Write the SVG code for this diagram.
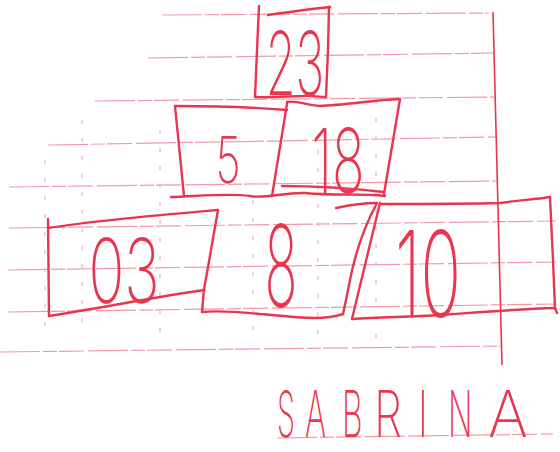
<svg xmlns="http://www.w3.org/2000/svg" width="560" height="452" viewBox="0 0 560 452">
<style>
.rule{stroke:#f19aa5;stroke-width:1.2;fill:none;stroke-dasharray:40 3 14 2 25 4}
.vrule{stroke:#f4b0b8;stroke-width:1.2;fill:none;stroke-dasharray:4 14}
.ink{stroke:#e8364e;stroke-width:2.4;fill:none;stroke-linecap:round;stroke-linejoin:round}
.num{fill:#e8364e;font-family:Inter,"DejaVu Sans",sans-serif;font-weight:200;text-anchor:middle}
.sig{fill:#e8364e;font-family:Inter,"DejaVu Sans",sans-serif;font-weight:200;font-size:64px}
</style>
<rect width="560" height="452" fill="#ffffff"/>
<g id="paper">
<path class="rule" d="M162,15 L489,13"/>
<path class="rule" d="M148,58 L494,53"/>
<path class="rule" d="M95,101 L495,97"/>
<path class="rule" d="M48,145 L496,137"/>
<path class="rule" d="M9,187 L497,181"/>
<path class="rule" d="M9,228 L556,221"/>
<path class="rule" d="M8,270 L556,262"/>
<path class="rule" d="M8,312 L556,304"/>
<path class="rule" d="M0,352 L502,346"/>
<path class="rule" d="M277,438 L553,434"/>
<path class="vrule" d="M45,160 L45,340"/>
<path class="vrule" d="M82,120 L82,330"/>
<path class="vrule" d="M160,130 L160,340"/>
<path class="vrule" d="M253,200 L253,330"/>
<path class="vrule" d="M318,150 L318,340"/>
<path class="vrule" d="M376,100 L376,340"/>
<path d="M493,12 L502,365" stroke="#e8364e" stroke-width="1.6" fill="none"/>
</g>
<g id="connectors"></g>
<g id="node-23">
<path class="ink" d="M259,6 L257,50 L255,97"/>
<path class="ink" d="M268,15 C290,12 310,9 330,7"/>
<path class="ink" d="M329,7 L328,50 L326,97"/>
<path class="ink" d="M255,97 C275,98 290,96 303,96 C310,95 318,97 326,97"/>
<text class="num" transform="translate(295,95) scale(0.55,1)" font-size="88">23</text>
</g>
<g id="node-5">
<path class="ink" d="M175,106 C210,106 250,107 287,110"/>
<path class="ink" d="M175,106 L184,196"/>
<path class="ink" d="M287,104 L272,196"/>
<text class="num" transform="translate(228,183) scale(0.68,1)" font-size="64">5</text>
</g>
<g id="node-18">
<path class="ink" d="M287,102 C297,100 305,105 320,106 C345,105 375,100 400,99"/>
<path class="ink" d="M400,99 L384,194"/>
<path class="ink" d="M282,186 C310,186 340,187 384,192"/>
<text class="num" transform="translate(338,193) scale(0.6,1)" font-size="90">18</text>
</g>
<g id="node-03">
<path class="ink" d="M48,228 C100,220 160,215 218,210"/>
<path class="ink" d="M48,219 L49,316"/>
<path class="ink" d="M218,210 L204,290" stroke-width="3"/>
<path class="ink" d="M49,316 C100,308 150,298 204,290"/>
<text class="num" transform="translate(124,303) scale(0.66,1)" font-size="90">03</text>
</g>
<g id="node-8">
<path class="ink" d="M171,197 C200,196 230,193 250,196 C265,199 285,192 305,193 C335,196 360,193 385,196"/>
<path class="ink" d="M204,289 L202,312"/>
<path class="ink" d="M202,312 C220,310 240,312 260,314 C290,316 320,322 343,314"/>
<path class="ink" d="M377,203 C365,225 355,255 350,280 C347,295 345,305 343,314"/>
<path class="ink" d="M336,208 C350,205 362,203 377,203"/>
<text class="num" transform="translate(281,307) scale(0.48,1)" font-size="114">8</text>
</g>
<g id="node-10">
<path class="ink" d="M380,203 L352,319"/>
<path class="ink" d="M380,204 C420,204 470,204 500,203 C520,200 540,199 550,197"/>
<path class="ink" d="M550,197 L553,260 L555,308 L557,313"/>
<path class="ink" d="M352,319 C380,317 410,317 440,315 C480,312 520,309 555,308"/>
<text class="num" transform="translate(428,317) scale(0.56,1)" font-size="120">10</text>
</g>
<g id="signature">
<text class="sig" transform="translate(277,437) scale(0.45,1)">S</text>
<text class="sig" transform="translate(305,437) scale(0.5,1)">A</text>
<text class="sig" transform="translate(342,437) scale(0.5,1)">B</text>
<text class="sig" transform="translate(374,437) scale(0.7,1)">R</text>
<text class="sig" transform="translate(418,437) scale(0.6,1)">I</text>
<text class="sig" transform="translate(448,437) scale(0.5,1)">N</text>
<text class="sig" transform="translate(488,437) scale(0.95,1)">A</text>
</g>
</svg>
